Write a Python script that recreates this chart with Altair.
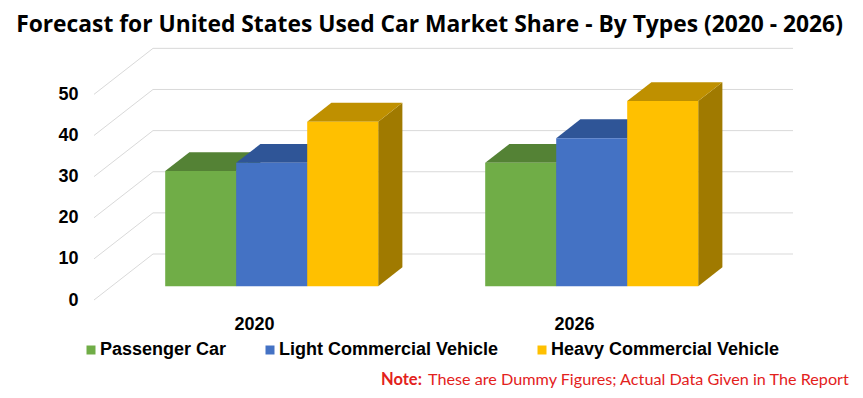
import json
import altair as alt
import pandas as pd

# ---------------- data ----------------
years = ["2020", "2026"]
series = ["Passenger Car", "Light Commercial Vehicle", "Heavy Commercial Vehicle"]
values_2020 = [28, 30, 40]
values_2026 = [30, 36, 45]
y_ticks = [0, 10, 20, 30, 40, 50]

title_text = "Forecast for United States Used Car Market Share - By Types (2020 - 2026)"
note_bold = "Note:"
note_rest = "These are Dummy Figures; Actual Data Given in The Report"

# ---------------- styles / projection ----------------
front_colors = ["#70ad47", "#4472c4", "#ffc000"]
top_colors = ["#548235", "#2f5597", "#bf9000"]
side_colors = ["#4a732f", "#294b86", "#a07a00"]

W, H = 699, 255
Y_MAX = 62
PX_PER_CAT = 320.0
PX_PER_VAL = H / Y_MAX
DEPTH_X = 59 / PX_PER_CAT      # full floor depth, category units
DEPTH_Y = 46 / PX_PER_VAL      # full floor depth, value units
BAR_W = 71 / PX_PER_CAT
F0, F1 = 0.30, 0.71            # bar front / back depth fractions
X_MAX = len(years) + DEPTH_X

# ---------------- derived tables ----------------
values = {"2020": values_2020, "2026": values_2026}
fronts, tops, sides = [], [], []
for ci, yr in enumerate(years):
    centre = ci + 0.5
    for si, s in enumerate(series):
        v = values[yr][si]
        bid = f"{yr}-{si}"
        x0 = centre - 1.5 * BAR_W + si * BAR_W + F0 * DEPTH_X
        y0 = F0 * DEPTH_Y
        Y = v + y0
        ddx = (F1 - F0) * DEPTH_X
        ddy = (F1 - F0) * DEPTH_Y
        fronts.append(dict(id=bid, series=s, x=x0, x2=x0 + BAR_W, y=y0, y2=Y))
        tops += [
            dict(id=bid, series=s, x=x0, y=Y, y2=Y),
            dict(id=bid, series=s, x=x0 + ddx, y=Y, y2=Y + ddy),
            dict(id=bid, series=s, x=x0 + BAR_W, y=Y, y2=Y + ddy),
            dict(id=bid, series=s, x=x0 + BAR_W + ddx, y=Y + ddy, y2=Y + ddy),
        ]
        sides += [
            dict(id=bid, series=s, x=x0 + BAR_W, y=y0, y2=Y),
            dict(id=bid, series=s, x=x0 + BAR_W + ddx, y=y0 + ddy, y2=Y + ddy),
        ]

grid = []
for t in y_ticks:
    grid.append(dict(x=0, y=t, x2=DEPTH_X, y2=t + DEPTH_Y))
    grid.append(dict(x=DEPTH_X, y=t + DEPTH_Y, x2=X_MAX, y2=t + DEPTH_Y))

df_front = pd.DataFrame(fronts)
df_top = pd.DataFrame(tops)
df_side = pd.DataFrame(sides)
df_grid = pd.DataFrame(grid)

label_expr = f"{json.dumps(years)}[round(datum.value - 0.5)]"


def X(field="x"):
    return alt.X(
        f"{field}:Q",
        scale=alt.Scale(domain=[0, X_MAX], nice=False, zero=False),
        axis=alt.Axis(
            values=[i + 0.5 for i in range(len(years))],
            labelExpr=label_expr,
            title=None, grid=False, domain=False, ticks=False,
            labelPadding=15, labelFont="Liberation Sans", labelFontSize=18,
            labelFontWeight="bold", labelColor="#000000",
        ),
    )


def Y(field="y"):
    return alt.Y(
        f"{field}:Q",
        scale=alt.Scale(domain=[0, Y_MAX], nice=False, zero=True),
        axis=alt.Axis(
            values=y_ticks, title=None, grid=False, domain=False, ticks=False,
            labelPadding=16, labelFont="Liberation Sans", labelFontSize=18,
            labelFontWeight="bold", labelColor="#000000",
        ),
    )


grid_layer = alt.Chart(df_grid).mark_rule(color="#d9d9d9", strokeWidth=1).encode(
    x=X(), x2="x2:Q", y=Y(), y2="y2:Q"
)

side_layer = alt.Chart(df_side).mark_area(opacity=1).encode(
    x=X(), y=Y(), y2="y2:Q", detail="id:N",
    color=alt.Color("series:N", scale=alt.Scale(domain=series, range=side_colors), legend=None),
)

top_layer = alt.Chart(df_top).mark_area(opacity=1).encode(
    x=X(), y=Y(), y2="y2:Q", detail="id:N",
    color=alt.Color("series:N", scale=alt.Scale(domain=series, range=top_colors), legend=None),
)

front_layer = alt.Chart(df_front).mark_rect().encode(
    x=X(), x2="x2:Q", y=Y(), y2="y2:Q",
    color=alt.Color(
        "series:N",
        scale=alt.Scale(domain=series, range=front_colors),
        legend=alt.Legend(
            orient="none", legendX=-12, legendY=296, direction="horizontal",
            title=None, symbolType="square", symbolSize=81, symbolStrokeWidth=0,
            labelFont="Liberation Sans", labelFontSize=18, labelFontWeight="bold",
            labelColor="#000000", labelOffset=0, columnPadding=34, labelLimit=0,
        ),
    ),
)

note_b = alt.Chart(pd.DataFrame({"t": [note_bold]})).mark_text(
    align="left", baseline="alphabetic", font="Lato", fontSize=16.5,
    fontWeight="bold", color="#e3211c",
).encode(x=alt.value(287), y=alt.value(340), text="t:N")

note_r = alt.Chart(pd.DataFrame({"t": [note_rest]})).mark_text(
    align="left", baseline="alphabetic", font="Lato", fontSize=16.2,
    color="#e3211c",
).encode(x=alt.value(334), y=alt.value(340), text="t:N")

chart = (
    alt.layer(grid_layer, side_layer, top_layer, front_layer, note_b, note_r)
    .resolve_scale(color="independent")
    .properties(
        width=W, height=H,
        background="white",
        autosize=alt.AutoSizeParams(type="none"),
        padding={"left": 86, "top": 37, "right": 62, "bottom": 90},
        title=alt.TitleParams(
            title_text, font="Open Sans", fontSize=22.8, fontWeight="bold",
            color="#000000", anchor="middle", frame="group", dx=-14, offset=8,
        ),
    )
    .configure_view(stroke=None)
)

chart.save("out.html", embed_options={"renderer": "svg", "actions": False})
